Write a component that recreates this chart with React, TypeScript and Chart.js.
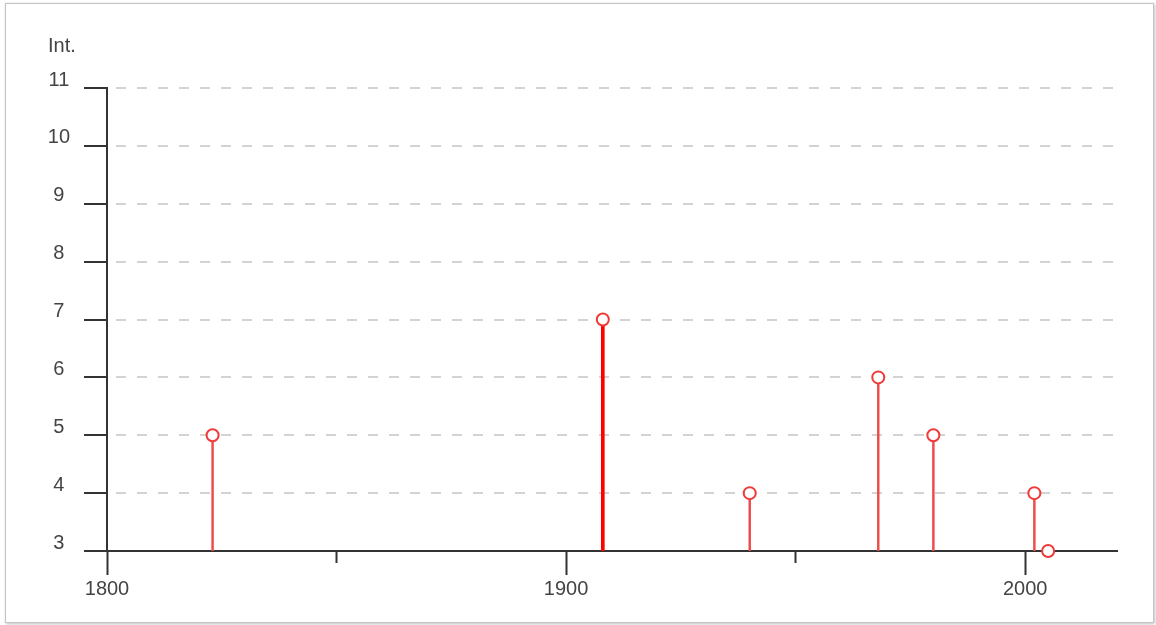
import React, { useEffect, useRef } from "react";
import { Chart, registerables } from "chart.js";

Chart.register(...registerables);

const years = [1823, 1908, 1940, 1968, 1980, 2002, 2005];
const intensities = [5, 7, 4, 6, 5, 4, 3];
const emphasized = [false, true, false, false, false, false, false];
const xMin = 1800;
const xMax = 2020;
const xMajorTicks = [1800, 1900, 2000];
const xMinorTicks = [1850, 1950];
const yMin = 3;
const yMax = 11;
const yTitle = "Int.";

const FONT = '"Liberation Sans", Arial, sans-serif';
const TEXT = "#444444";
const AXIS = "#333333";

const titlePlugin = {
  id: "yTopTitle",
  afterDraw(chart: any) {
    const { ctx, chartArea } = chart;
    ctx.save();
    ctx.font = `20px ${FONT}`;
    ctx.fillStyle = TEXT;
    ctx.textAlign = "left";
    ctx.textBaseline = "middle";
    ctx.fillText(yTitle, chartArea.left - 59, chartArea.top - 42);
    ctx.restore();
  },
};

export default function App() {
  const ref = useRef<HTMLCanvasElement | null>(null);

  useEffect(() => {
    if (!ref.current) return;
    const thin = years
      .map((x, i) => ({ x, y: [yMin, intensities[i]] }))
      .filter((_, i) => !emphasized[i]);
    const thick = years
      .map((x, i) => ({ x, y: [yMin, intensities[i]] }))
      .filter((_, i) => emphasized[i]);
    const points = years.map((x, i) => ({ x, y: intensities[i] }));

    const chart = new Chart(ref.current, {
      type: "bar",
      data: {
        datasets: [
          {
            type: "bar",
            data: thin as any,
            backgroundColor: "#ef4a4a",
            barThickness: 1.8,
            grouped: false,
            order: 2,
          } as any,
          {
            type: "bar",
            data: thick as any,
            backgroundColor: "#ff0000",
            barThickness: 3,
            grouped: false,
            order: 2,
          } as any,
          {
            type: "scatter",
            data: points,
            pointStyle: "circle",
            pointRadius: 6,
            pointBorderWidth: 2,
            pointBorderColor: "#f03a3a",
            pointBackgroundColor: "#ffffff",
            clip: false,
            order: 0,
          } as any,
        ],
      },
      options: {
        animation: false,
        responsive: false,
        maintainAspectRatio: false,
        layout: { padding: { top: 88, left: 0, right: 39, bottom: 0 } },
        plugins: {
          legend: { display: false },
          tooltip: { enabled: false },
          title: { display: false },
        },
        scales: {
          x2: {
            type: "linear",
            position: "bottom",
            weight: 0,
            min: xMin,
            max: xMax,
            offset: false,
            afterBuildTicks: (s: any) => {
              s.ticks = xMinorTicks.map((v) => ({ value: v }));
            },
            afterFit: (s: any) => {
              s.height = 0;
              s.paddingLeft = 0;
              s.paddingRight = 0;
            },
            ticks: { display: false },
            grid: {
              offset: false,
              drawOnChartArea: false,
              drawTicks: true,
              tickLength: 12,
              tickColor: AXIS,
              tickWidth: 2,
            },
            border: { display: false },
          },
          x: {
            type: "linear",
            position: "bottom",
            weight: 1,
            min: xMin,
            max: xMax,
            offset: false,
            afterBuildTicks: (s: any) => {
              s.ticks = xMajorTicks.map((v) => ({ value: v }));
            },
            afterFit: (s: any) => {
              s.height = 74;
              s.paddingLeft = 0;
              s.paddingRight = 0;
            },
            ticks: {
              padding: 2,
              maxRotation: 0,
              autoSkip: false,
              color: TEXT,
              font: { family: FONT, size: 20 },
              callback: (v: any) => String(v),
            },
            grid: {
              offset: false,
              drawOnChartArea: false,
              drawTicks: true,
              tickLength: 24,
              tickColor: AXIS,
              tickWidth: 2,
            },
            border: { display: true, color: AXIS, width: 2 },
          },
          y: {
            type: "linear",
            position: "left",
            min: yMin,
            max: yMax,
            afterFit: (s: any) => {
              s.width = 107;
              s.paddingTop = 0;
              s.paddingBottom = 0;
            },
            ticks: {
              stepSize: 1,
              padding: 14,
              crossAlign: "center",
              labelOffset: -8,
              color: TEXT,
              font: { family: FONT, size: 20 },
            },
            grid: {
              color: "#d3d3d3",
              lineWidth: 2,
              drawTicks: true,
              tickLength: 23,
              tickColor: AXIS,
              tickWidth: 2,
            },
            border: { display: true, color: AXIS, width: 2, dash: [10, 11], dashOffset: -8 },
          },
        },
      } as any,
      plugins: [titlePlugin],
    });
    return () => chart.destroy();
  }, []);

  return (
    <div style={{ position: "fixed", left: 0, top: 0, width: 1156, height: 625, background: "#ffffff" }}>
      <canvas ref={ref} width={1156} height={625} style={{ position: "absolute", left: 0, top: 0, width: 1156, height: 625 }} />
      <div
        style={{
          position: "absolute",
          left: 5,
          top: 3,
          width: 1147,
          height: 618,
          border: "1px solid #c4c4c4",
          boxShadow: "1px 1px 3px rgba(0,0,0,0.25)",
          pointerEvents: "none",
        }}
      />
    </div>
  );
}
